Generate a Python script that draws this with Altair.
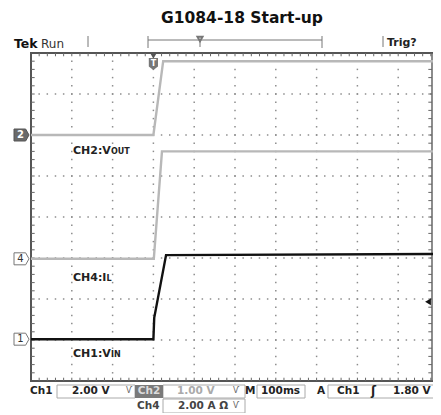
import altair as alt
import pandas as pd
import numpy as np

# ---------------- data (units: divisions) ----------------
# horizontal: 10 div (100 ms/div), vertical: 8 div
ch2_t = [0.0, 3.0, 3.24, 10.0]          # CH2: Vout (1.00 V/div)
ch2_v = [6.0, 6.0, 7.8, 7.8]
ch4_t = [0.0, 3.01, 3.21, 10.0]         # CH4: IL (2.00 A/div)
ch4_v = [2.98, 2.98, 5.6, 5.6]
ch1_t = [0.0, 3.0, 3.02, 3.31, 10.0]    # CH1: Vin (2.00 V/div)
ch1_v = [1.02, 1.02, 1.54, 3.07, 3.1]

channel_levels = [6.0, 2.98, 1.02]      # ground markers for 2, 4, 1
channel_tags = ["2", "4", "1"]
trigger_level = 1.93
trigger_time = 3.0

title_text = "G1084-18 Start-up"

# ---------------- layout helpers ----------------
LEFT, TOP = 31, 53
PW, PH = 408, 328
SVG_W, SVG_H = 425, 405


def dx(px):
    return (px - LEFT) / PW * 10


def dy(py):
    return (TOP + PH - py) / PH * 8


xs = alt.Scale(domain=[0, 10], nice=False, zero=False)
ys = alt.Scale(domain=[0, 8], nice=False, zero=False)
X = alt.X("x:Q", scale=xs, axis=None)
Y = alt.Y("y:Q", scale=ys, axis=None)
X2 = alt.X2("x2:Q")
Y2 = alt.Y2("y2:Q")

RIGHT_VIS = dx(432)   # visible right edge of the page

layers = []

# graticule dots
dots = []
for gx in range(1, 10):
    for k in range(1, 40):
        dots.append({"x": gx, "y": k * 0.2})
for gy in range(1, 8):
    for k in range(1, 50):
        dots.append({"x": k * 0.2, "y": gy})
layers.append(alt.Chart(pd.DataFrame(dots)).mark_square(size=2.2, color="#8c8c8c", opacity=1).encode(x=X, y=Y))

# border ticks (minor, inward)
ticks = []
for k in range(1, 40):
    y = k * 0.2
    ticks.append({"x": 0, "x2": 0.09, "y": y, "y2": y})
    ticks.append({"x": RIGHT_VIS, "x2": RIGHT_VIS - 0.09, "y": y, "y2": y})
for k in range(1, 50):
    x = k * 0.2
    ticks.append({"x": x, "x2": x, "y": 8, "y2": 7.92})
    ticks.append({"x": x, "x2": x, "y": 0, "y2": 0.08})
layers.append(alt.Chart(pd.DataFrame(ticks)).mark_rule(color="#666", strokeWidth=1).encode(x=X, x2=X2, y=Y, y2=Y2))
layers.append(alt.Chart(pd.DataFrame([{"x": RIGHT_VIS, "x2": RIGHT_VIS, "y": 0, "y2": 8}])).mark_rule(
    color="#666", strokeWidth=1.5).encode(x=X, x2=X2, y=Y, y2=Y2))

# traces
gray = pd.concat([
    pd.DataFrame({"x": ch2_t, "y": ch2_v, "s": "CH2"}),
    pd.DataFrame({"x": ch4_t, "y": ch4_v, "s": "CH4"}),
])
layers.append(alt.Chart(gray).mark_line(color="#b8b8b8", strokeWidth=2.4).encode(x=X, y=Y, detail="s:N"))
layers.append(alt.Chart(pd.DataFrame({"x": ch1_t, "y": ch1_v})).mark_line(color="#111", strokeWidth=2.4).encode(x=X, y=Y))

# channel ground tags
tag_shape = "M-1,-0.8L0.55,-0.8L1,0L0.55,0.8L-1,0.8Z"
tags = pd.DataFrame({"x": [dx(21.5)] * 3, "y": channel_levels, "t": channel_tags,
                     "filled": [True, False, False]})
layers.append(alt.Chart(tags[tags.filled]).mark_point(shape=tag_shape, size=225, filled=True, fill="#6a6a6a",
                                                      stroke="#555", strokeWidth=1, opacity=1).encode(x=X, y=Y))
layers.append(alt.Chart(tags[~tags.filled]).mark_point(shape=tag_shape, size=225, filled=True, fill="white",
                                                       stroke="#777", strokeWidth=1, opacity=1).encode(x=X, y=Y))
layers.append(alt.Chart(tags[tags.filled]).mark_text(font="DejaVu Sans", fontWeight="bold", fontSize=10, color="white",
                                                     dx=-1).encode(x=X, y=Y, text="t:N"))
layers.append(alt.Chart(tags[~tags.filled]).mark_text(font="DejaVu Sans", fontSize=10, color="#333",
                                                      dx=-1).encode(x=X, y=Y, text="t:N"))

# trigger position marker (top) and trigger level arrow (right)
layers.append(alt.Chart(pd.DataFrame({"x": [trigger_time], "y": [dy(56)]})).mark_point(
    shape="triangle-down", size=40, filled=True, color="#555", opacity=1).encode(x=X, y=Y))
layers.append(alt.Chart(pd.DataFrame({"x": [trigger_time], "y": [dy(64)]})).mark_point(
    shape="M-0.75,-1L0.75,-1L0.75,0.4L0,1L-0.75,0.4Z", size=150, filled=True, color="#777", opacity=1).encode(x=X, y=Y))
layers.append(alt.Chart(pd.DataFrame({"x": [trigger_time], "y": [dy(64)], "t": ["T"]})).mark_text(
    font="DejaVu Sans", fontWeight="bold", fontSize=8, color="white").encode(x=X, y=Y, text="t:N"))
layers.append(alt.Chart(pd.DataFrame({"x": [dx(428)], "y": [trigger_level]})).mark_point(
    shape="triangle-left", size=45, filled=True, color="#111", opacity=1).encode(x=X, y=Y))

# header lines
hl = pd.DataFrame([
    {"x": dx(88), "x2": dx(88), "y": dy(36), "y2": dy(47)},
    {"x": dx(383), "x2": dx(383), "y": dy(36), "y2": dy(47)},
    {"x": dx(148), "x2": dx(148), "y": dy(36), "y2": dy(48)},
    {"x": dx(322), "x2": dx(322), "y": dy(36), "y2": dy(48)},
    {"x": dx(148), "x2": dx(322), "y": dy(40), "y2": dy(40)},
    {"x": dx(200), "x2": dx(200), "y": dy(40), "y2": dy(47)},
])
layers.append(alt.Chart(hl).mark_rule(color="#777", strokeWidth=1).encode(x=X, x2=X2, y=Y, y2=Y2))
layers.append(alt.Chart(pd.DataFrame({"x": [dx(200)], "y": [dy(39)]})).mark_point(
    shape="triangle-down", size=25, filled=True, fill="white", stroke="#777", opacity=1).encode(x=X, y=Y))

# bottom readout boxes
R1, R2 = 391, 406
boxes = pd.DataFrame([
    {"x": dx(57), "x2": dx(135), "y": dy(385), "y2": dy(398)},
    {"x": dx(163), "x2": dx(245), "y": dy(385), "y2": dy(398)},
    {"x": dx(257), "x2": dx(305), "y": dy(385), "y2": dy(398)},
    {"x": dx(328), "x2": dx(445), "y": dy(385), "y2": dy(398)},
    {"x": dx(163), "x2": dx(245), "y": dy(399), "y2": dy(413)},
])
layers.append(alt.Chart(boxes).mark_rect(fill=None, filled=False, stroke="#aaa", strokeWidth=1).encode(x=X, x2=X2, y=Y, y2=Y2))
layers.append(alt.Chart(pd.DataFrame([{"x": dx(135), "x2": dx(163), "y": dy(385), "y2": dy(398)}])).mark_rect(
    color="#7a7a7a").encode(x=X, x2=X2, y=Y, y2=Y2))


def texts(rows, **kw):
    base = dict(font="DejaVu Sans", align="left", baseline="middle", fontSize=11, fontWeight="bold", color="#222")
    base.update(kw)
    df = pd.DataFrame(rows, columns=["px", "py", "t"])
    df["x"] = df.px.map(dx)
    df["y"] = df.py.map(dy)
    return alt.Chart(df).mark_text(**base).encode(x=X, y=Y, text="t:N")


layers.append(texts([(242, 17.5, title_text)], align="center", fontSize=15.5, color="#111"))
layers.append(texts([(14, 44, "Tek")], fontSize=12.5, color="#111"))
layers.append(texts([(41, 44, "Run")], fontSize=12, fontWeight="normal", color="#333"))
layers.append(texts([(387, 43, "Trig?")], fontSize=11, color="#222"))

# channel labels (small caps suffixes)
layers.append(texts([(73, 154, "CH2:V"), (73, 281, "CH4:I"), (73, 357, "CH1:V")], baseline="alphabetic", color="#222"))
layers.append(texts([(111, 154, "OUT"), (106.5, 281, "L"), (111, 357, "IN")], baseline="alphabetic", fontSize=8,
                    color="#222"))

# readouts
layers.append(texts([(30, R1, "Ch1"), (72, R1, "2.00 V"), (245, R1, "M"), (261, R1, "100ms"),
                     (317, R1, "A"), (337, R1, "Ch1"), (393, R1, "1.80 V")], fontSize=10.5))
layers.append(texts([(371, R1, "ʃ")], fontSize=12))
layers.append(texts([(149, R1, "Ch2")], align="center", fontSize=10.5, color="#dcdcdc"))
layers.append(texts([(177, R1, "1.00 V")], fontSize=10.5, color="#aaaaaa"))
layers.append(texts([(126, R1, "Ѵ"), (233, R1, "Ѵ")], fontSize=8, fontWeight="normal", color="#666"))
layers.append(texts([(137, R2, "Ch4"), (178, R2, "2.00 A Ω")], fontSize=10.5, color="#444"))
layers.append(texts([(233, R2, "Ѵ")], fontSize=8, fontWeight="normal", color="#666"))

chart = alt.layer(*layers).properties(
    width=PW, height=PH,
    padding={"left": LEFT - 8, "top": TOP - 8, "right": SVG_W - (LEFT - 8) - PW, "bottom": SVG_H - (TOP - 8) - PH},
    autosize=alt.AutoSizeParams(type="none"),
    background="white",
).configure_view(stroke="#555", strokeWidth=2)

chart.save("out.html", embed_options={"renderer": "svg", "actions": False})
